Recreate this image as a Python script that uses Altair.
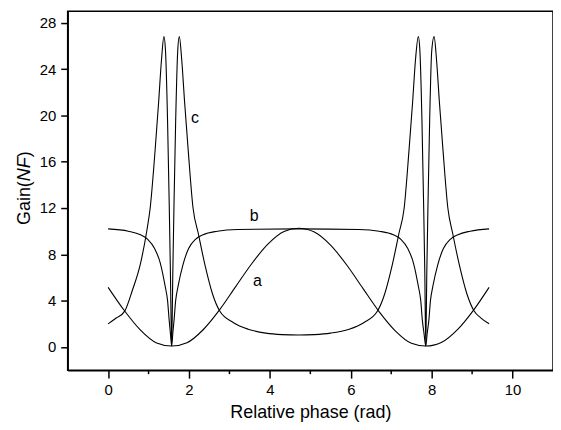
import altair as alt
import pandas as pd

# ---- data ----
a_x = [0, 0.4, 0.8, 1.2, 1.57, 1.95, 2.35, 2.75, 3.15, 3.55, 3.95, 4.35, 4.71,
       5.1, 5.5, 5.9, 6.3, 6.7, 7.1, 7.5, 7.85, 8.25, 8.65, 9.05, 9.42]
a_y = [5.15, 3.15, 1.46, 0.35, 0.08, 0.37, 1.49, 3.18, 5.19, 7.19, 8.88, 9.97, 10.25,
       9.92, 8.79, 7.08, 5.06, 3.06, 1.40, 0.32, 0.08, 0.41, 1.54, 3.25, 5.15]

b_x = [0, 0.5, 0.8, 0.98, 1.15, 1.29, 1.41, 1.47, 1.51, 1.54, 1.571, 1.60, 1.63,
       1.67, 1.73, 1.85, 1.99, 2.16, 2.35, 2.7, 3.2, 4.71, 6.2, 6.7, 7.05, 7.24,
       7.41, 7.55, 7.67, 7.73, 7.77, 7.81, 7.854, 7.89, 7.93, 7.97, 8.03, 8.15,
       8.29, 8.46, 8.65, 8.95, 9.42]
b_y = [10.2, 10.0, 9.7, 9.3, 8.5, 7.25, 5.25, 4.0, 2.3, 1.2, 0.1, 1.2, 2.3,
       4.0, 5.25, 7.1, 8.5, 9.3, 9.7, 10.0, 10.15, 10.2, 10.15, 10.0, 9.7, 9.3,
       8.5, 7.25, 5.25, 4.0, 2.3, 1.2, 0.1, 1.2, 2.3, 4.0, 5.25, 7.1,
       8.5, 9.3, 9.7, 10.0, 10.2]

c_x = [0, 0.2, 0.41, 0.6, 0.8, 0.96, 1.04, 1.16, 1.25, 1.32, 1.38, 1.42, 1.47,
       1.51, 1.54, 1.571, 1.60, 1.63, 1.67, 1.72, 1.76, 1.82, 1.89, 1.98, 2.1,
       2.23, 2.4, 2.58, 2.76, 3.1, 3.46, 3.9, 4.3, 4.71, 5.1, 5.5, 5.96, 6.32,
       6.66, 6.84, 7.02, 7.19, 7.32, 7.44, 7.53, 7.60, 7.67, 7.71, 7.76, 7.80,
       7.83, 7.854, 7.88, 7.91, 7.95, 8.0, 8.06, 8.12, 8.19, 8.28, 8.40, 8.52,
       8.69, 8.87, 9.05, 9.22, 9.42]
c_y = [2.0, 2.5, 3.1, 4.9, 7.2, 10.1, 12.0, 16.9, 21.2, 24.8, 26.8, 25.5, 19.5,
       12.5, 6.5, 0.1, 6.5, 12.5, 19.5, 25.5, 26.8, 24.8, 21.2, 17.0, 12.0,
       9.8, 7.0, 4.6, 3.1, 2.1, 1.54, 1.2, 1.07, 1.03, 1.07, 1.2, 1.54, 2.1,
       3.1, 4.6, 7.0, 9.8, 12.0, 17.0, 21.2, 24.8, 26.8, 25.5, 19.5, 12.5,
       6.5, 0.1, 6.5, 12.5, 19.5, 25.5, 26.8, 24.8, 21.2, 17.0, 12.0, 9.8,
       7.0, 4.6, 3.1, 2.5, 2.0]

label_text = ["a", "b", "c"]
label_x = [3.69, 3.61, 2.15]
label_y = [5.68, 11.33, 19.8]

x_major = [0, 2, 4, 6, 8, 10]
x_minor = [1, 3, 5, 7, 9]
y_ticks = [0, 4, 8, 12, 16, 20, 24, 28]

# ---- tables ----
rows = []
for name, xs, ys in (("a", a_x, a_y), ("b", b_x, b_y), ("c", c_x, c_y)):
    for i, (xv, yv) in enumerate(zip(xs, ys)):
        rows.append({"series": name, "x": xv, "y": yv, "i": i})
df = pd.DataFrame(rows)
labels_df = pd.DataFrame({"t": label_text, "x": label_x, "y": label_y})
minor_df = pd.DataFrame({"x": x_minor})

W, H = 488, 361
FONT = "Liberation Sans"

xscale = alt.Scale(domain=[-1, 11], nice=False, zero=False)
yscale = alt.Scale(domain=[-2, 29], nice=False, zero=False)
xaxis = alt.Axis(values=x_major, title="Relative phase (rad)", tickSize=8,
                 labelPadding=4, titlePadding=7, format="d")
yaxis = alt.Axis(values=y_ticks, title=None, tickSize=7, labelPadding=5, format="d")

lines = alt.Chart(df).mark_line(color="black", strokeWidth=1.1, interpolate="monotone").encode(
    x=alt.X("x:Q", scale=xscale, axis=xaxis),
    y=alt.Y("y:Q", scale=yscale, axis=yaxis),
    detail="series:N",
    order="i:Q",
)

minor = alt.Chart(minor_df).mark_rule(color="black", strokeWidth=1.5).encode(
    x=alt.X("x:Q", scale=xscale, axis=xaxis),
    y=alt.value(H),
    y2=alt.value(H + 4),
)

labels = alt.Chart(labels_df).mark_text(font=FONT, fontSize=16, color="black",
                                        align="center", baseline="middle").encode(
    x=alt.X("x:Q", scale=xscale, axis=xaxis),
    y=alt.Y("y:Q", scale=yscale, axis=yaxis),
    text="t:N",
)

title_parts = [("Gain(", "normal", 215), ("NF", "italic", 171), (")", "normal", 147)]
title_layers = []
for txt, style, ypix in title_parts:
    title_layers.append(
        alt.Chart(pd.DataFrame({"t": [txt]})).mark_text(
            font=FONT, fontSize=18, fontStyle=style, color="black",
            angle=270, align="left", baseline="middle").encode(
            x=alt.value(-43), y=alt.value(ypix), text="t:N")
    )

chart = alt.layer(lines, minor, labels, *title_layers).properties(
    width=W, height=H,
    autosize=alt.AutoSizeParams(type="none"),
    padding={"left": 60, "top": 2, "right": 0, "bottom": 56},
).configure_view(
    stroke="black", strokeWidth=1.5
).configure_axis(
    grid=False,
    domainColor="black", domainWidth=1.5,
    tickColor="black", tickWidth=1.5,
    labelFont=FONT, labelFontSize=15, labelColor="black",
    titleFont=FONT, titleFontSize=18, titleColor="black", titleFontWeight="normal",
)

chart.save("out.html", embed_options={"renderer": "svg", "actions": False})
